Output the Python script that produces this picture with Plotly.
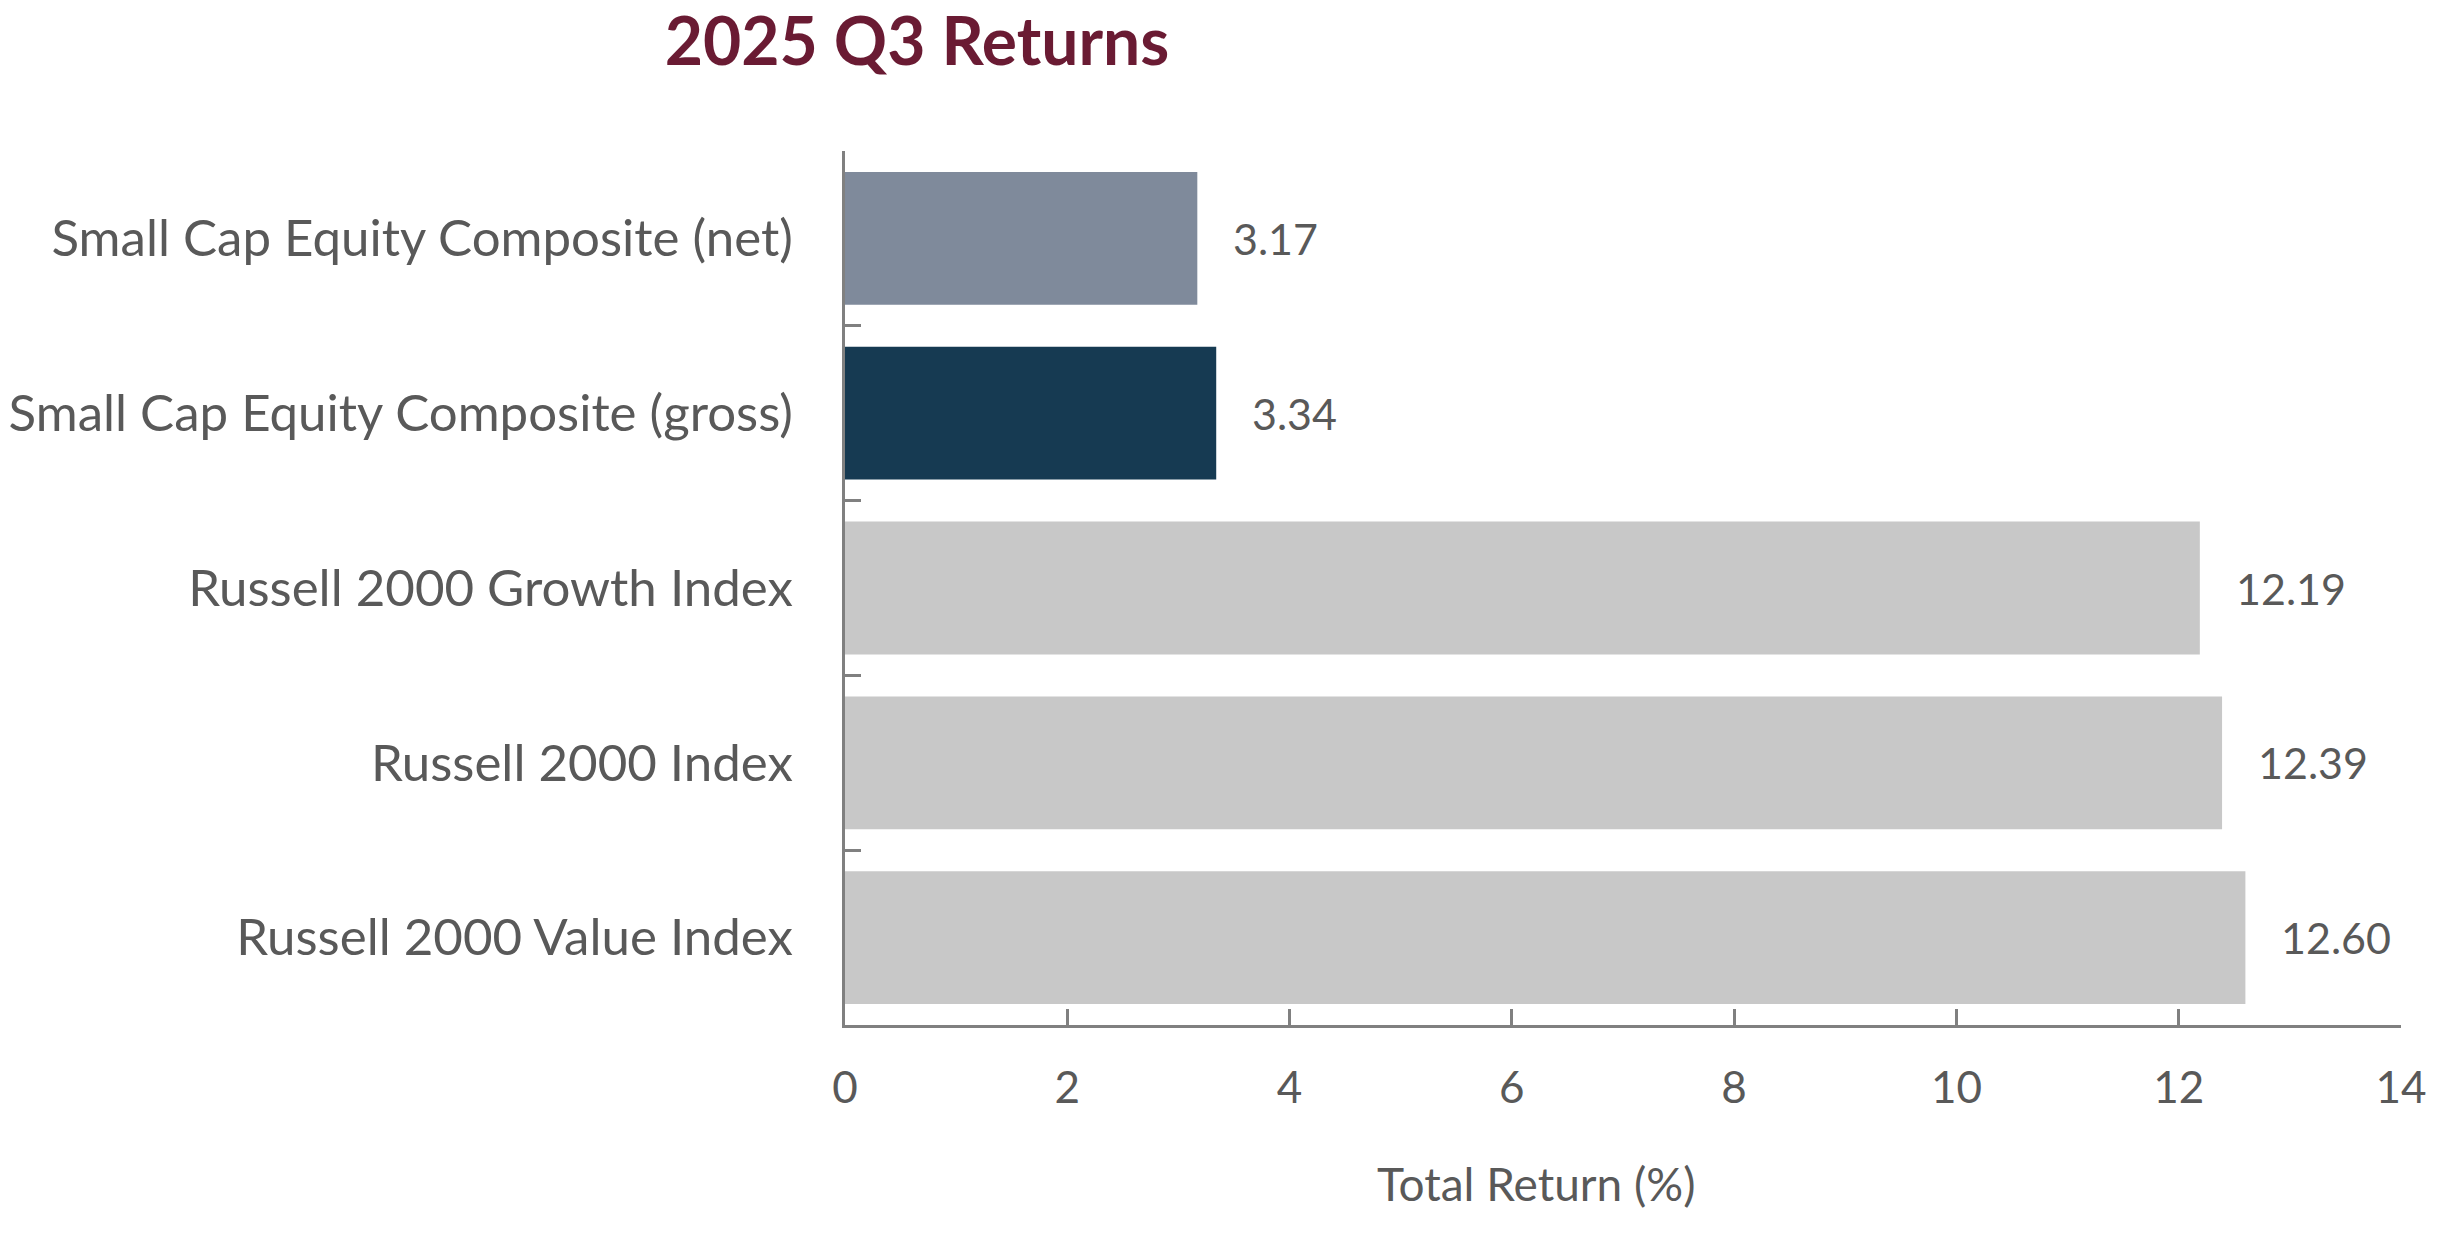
import plotly.graph_objects as go

categories = [
    "Small Cap Equity Composite (net)",
    "Small Cap Equity Composite (gross)",
    "Russell 2000 Growth Index",
    "Russell 2000 Index",
    "Russell 2000 Value Index",
]
returns = [3.17, 3.34, 12.19, 12.39, 12.60]
bar_colors = ["#7F8A9B", "#163A52", "#C8C8C8", "#C8C8C8", "#C8C8C8"]
x_ticks = [0, 2, 4, 6, 8, 10, 12, 14]

TEXT = "#595959"
AXIS = "#808080"
FONT = "Lato"

fig = go.Figure()
fig.add_trace(go.Bar(
    y=categories,
    x=returns,
    orientation="h",
    marker=dict(color=bar_colors, line=dict(width=0)),
    hoverinfo="skip",
))

for c, v in zip(categories, returns):
    fig.add_annotation(
        x=v, y=c, xref="x", yref="y",
        text=f"{v:.2f}", showarrow=False,
        xanchor="left", yanchor="middle", xshift=34,
        font=dict(family=FONT, size=43, color=TEXT),
    )

fig.add_annotation(
    text="Total Return (%)", showarrow=False,
    xref="paper", yref="paper",
    x=(1536 - 845) / (2401 - 845), y=-(1183 - 1025) / 874,
    xanchor="center", yanchor="middle",
    font=dict(family=FONT, size=46, color=TEXT),
)

fig.update_layout(
    width=2445, height=1234,
    margin=dict(l=845, r=44, t=151, b=209, autoexpand=False),
    paper_bgcolor="white", plot_bgcolor="white",
    bargap=0.24,
    showlegend=False,
    title=dict(
        text="<b>2025 Q3 Returns</b>",
        x=917 / 2445, xanchor="center", xref="container",
        y=1 - 42 / 1234, yanchor="middle", yref="container",
        font=dict(family=FONT, size=66, color="#6A1B33"),
    ),
    xaxis=dict(
        range=[0, 14], tickvals=x_ticks, ticktext=[str(t) for t in x_ticks],
        showgrid=False, zeroline=False,
        showline=True, linecolor=AXIS, linewidth=3,
        ticks="inside", ticklen=16, tickwidth=3, tickcolor=AXIS,
        ticklabelstandoff=22,
        tickfont=dict(family=FONT, size=44, color=TEXT),
    ),
    yaxis=dict(
        categoryorder="array", categoryarray=categories,
        autorange="reversed",
        showgrid=False, zeroline=False,
        showline=True, linecolor=AXIS, linewidth=3,
        ticks="inside", ticklen=16, tickwidth=3, tickcolor=AXIS,
        tickson="boundaries",
        ticklabelstandoff=39,
        tickfont=dict(family=FONT, size=51, color=TEXT),
    ),
)

fig.write_html(
    "out.html",
    config={"displayModeBar": False, "staticPlot": True},
    post_script="document.body.style.margin='0';document.body.style.overflow='hidden';",
)
